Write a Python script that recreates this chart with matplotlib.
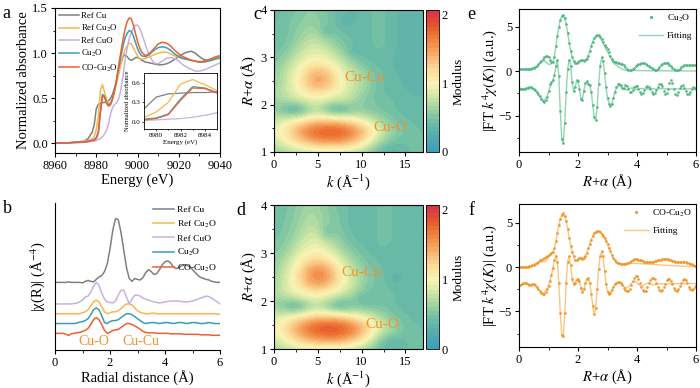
import numpy as np
import matplotlib
matplotlib.use('Agg')
import matplotlib.pyplot as plt
from matplotlib.colors import LinearSegmentedColormap
from matplotlib.ticker import MultipleLocator

plt.rcParams['font.family'] = ['Liberation Serif', 'DejaVu Serif']
plt.rcParams['mathtext.fontset'] = 'stix'
plt.rcParams['axes.linewidth'] = 0.8
plt.rcParams['xtick.major.width'] = 0.8
plt.rcParams['ytick.major.width'] = 0.8
plt.rcParams['xtick.minor.width'] = 0.6
plt.rcParams['ytick.minor.width'] = 0.6
plt.rcParams['xtick.major.size'] = 3
plt.rcParams['ytick.major.size'] = 3
plt.rcParams['xtick.minor.size'] = 1.8
plt.rcParams['ytick.minor.size'] = 1.8
plt.rcParams['xtick.labelsize'] = 9
plt.rcParams['ytick.labelsize'] = 9

# ---------------- a : XANES ----------------
energy = [8960, 8965, 8970, 8974, 8976, 8978, 8979, 8980, 8981, 8982,
          8983, 8984, 8985, 8986, 8987, 8988, 8989, 8990, 8991, 8992,
          8993, 8994, 8995, 8996, 8997, 8998, 8999, 9000, 9001, 9002,
          9004, 9006, 9008, 9010, 9012, 9014, 9016, 9018, 9020, 9022,
          9024, 9026, 9028, 9030, 9032, 9034, 9036, 9038, 9040]
xanes_ref_cu = [0.0, 0.0, 0.01, 0.02, 0.05, 0.12, 0.2, 0.38, 0.43, 0.44,
                0.45, 0.45, 0.46, 0.47, 0.5, 0.55, 0.62, 0.7, 0.8, 0.89,
                0.96, 0.98, 0.96, 0.93, 0.92, 0.93, 0.95, 0.95, 0.94, 0.92,
                0.9, 0.89, 0.88, 0.87, 0.87, 0.88, 0.9, 0.93, 0.96, 0.99,
                1.01, 1.02, 1.0, 0.96, 0.93, 0.92, 0.93, 0.94, 0.95]
xanes_ref_cu2o = [0.0, 0.0, 0.01, 0.02, 0.03, 0.05, 0.07, 0.15, 0.3, 0.58,
                  0.65, 0.57, 0.48, 0.44, 0.45, 0.5, 0.58, 0.68, 0.78, 0.88,
                  0.97, 1.04, 1.08, 1.11, 1.1, 1.06, 1.01, 0.97, 0.94, 0.93,
                  0.94, 0.96, 0.98, 1.0, 1.01, 1.01, 0.99, 0.97, 0.95, 0.94,
                  0.93, 0.92, 0.91, 0.9, 0.9, 0.91, 0.92, 0.93, 0.94]
xanes_ref_cuo = [0.0, 0.0, 0.0, 0.01, 0.01, 0.02, 0.02, 0.03, 0.04, 0.05,
                 0.07, 0.1, 0.14, 0.22, 0.33, 0.4, 0.43, 0.45, 0.5, 0.6,
                 0.75, 0.92, 1.06, 1.16, 1.23, 1.28, 1.31, 1.31, 1.28, 1.22,
                 1.08, 0.96, 0.89, 0.88, 0.91, 0.94, 0.95, 0.94, 0.91, 0.87,
                 0.84, 0.82, 0.8, 0.8, 0.81, 0.83, 0.85, 0.87, 0.89]
xanes_cu2o = [0.0, 0.0, 0.01, 0.01, 0.02, 0.03, 0.04, 0.06, 0.12, 0.35,
              0.54, 0.52, 0.45, 0.42, 0.44, 0.5, 0.6, 0.72, 0.85, 0.97,
              1.08, 1.17, 1.22, 1.25, 1.24, 1.19, 1.12, 1.05, 1.0, 0.97,
              0.96, 0.99, 1.03, 1.06, 1.07, 1.06, 1.03, 0.99, 0.96, 0.94,
              0.93, 0.92, 0.91, 0.9, 0.9, 0.91, 0.92, 0.94, 0.95]
xanes_co_cu2o = [0.0, 0.0, 0.01, 0.01, 0.02, 0.03, 0.03, 0.05, 0.11, 0.33,
                 0.52, 0.51, 0.44, 0.41, 0.43, 0.5, 0.6, 0.73, 0.88, 1.02,
                 1.15, 1.27, 1.35, 1.39, 1.38, 1.31, 1.22, 1.13, 1.06, 1.01,
                 0.97, 1.0, 1.05, 1.1, 1.12, 1.11, 1.08, 1.03, 0.99, 0.96,
                 0.94, 0.92, 0.91, 0.9, 0.91, 0.92, 0.94, 0.96, 0.97]

names = ['Ref Cu', 'Ref Cu$_2$O', 'Ref CuO', 'Cu$_2$O', 'CO-Cu$_2$O']
colors = ['#808080', '#f9b64d', '#c7b2df', '#3a9db6', '#ef6030']

# ---------------- b : FT-EXAFS ----------------
r_b = np.round(np.arange(61) * 0.1, 1)
ft_ref_cu = [69, 69, 69, 69, 69, 69.5, 69, 69, 69, 69,
             68.5, 70, 71, 70, 69.5, 72, 74.5, 76, 80, 88,
             103, 122, 134, 133, 120, 102, 84, 73, 70, 73,
             72, 71.5, 74, 79, 82, 80, 77, 78, 82, 87,
             90, 91, 89, 85, 83, 84, 86, 87, 86.5, 85,
             82, 79, 76, 74, 73, 72, 71.5, 70, 69.5, 69, 69]
ft_ref_cu2o = [37, 37, 37, 37, 37, 37, 37, 37, 37, 37,
               38, 39, 41, 45, 49, 51, 49, 44, 39, 37,
               38, 39, 39, 40, 42, 45, 47, 47, 46, 43,
               40, 38.5, 37.5, 37, 37, 37.5, 37.5, 37, 37, 37,
               37, 37, 37, 37, 37, 37, 37, 37, 37, 37,
               37, 37, 37, 37, 37, 37, 37, 37, 37, 36.5, 36.5]
ft_ref_cuo = [47, 47, 47, 47, 47, 47, 47, 47.5, 48, 49,
              51, 54, 55, 59, 65, 69, 66, 58, 52, 49,
              48.5, 48, 50, 56, 61, 61, 54, 47, 52, 56,
              56, 55, 53, 52, 51, 50, 49, 48.5, 48, 48.5,
              49, 49.5, 50, 50, 50, 50, 49.5, 49, 49, 49.5,
              50, 51, 52, 53, 54, 55, 54.5, 53, 51, 49, 47]
ft_cu2o = [27, 27, 27, 27, 27, 27, 27, 27, 27.5, 28.5,
           29, 30, 32, 36, 41, 43, 41, 35, 28, 27,
           29, 30, 30, 31, 33, 35, 37, 37, 36, 34,
           32, 30, 28, 27, 27.5, 28, 28, 27.5, 27, 27.5,
           28, 28, 27.5, 27, 27.5, 28, 28, 27.5, 27, 27.5,
           28, 28, 27.5, 27, 27, 27.5, 28, 27.5, 27, 27, 27]
ft_co_cu2o = [17, 17, 17, 17, 16, 15, 16.5, 17, 17.5, 18,
              19, 20, 22, 26, 31, 33, 31, 26, 20, 17,
              18, 20, 20.5, 21, 23, 25, 27, 27, 26, 24.5,
              23, 21, 19, 18, 17.5, 17.5, 17.5, 17, 17, 17,
              17, 17, 16.5, 16.5, 16.5, 16.5, 16.5, 16, 16, 16,
              16, 16, 16, 15.5, 15.5, 15.5, 15.5, 15, 15, 15, 15]

# ---------------- c, d : wavelet maps ----------------
k_grid = list(range(18))
r_grid = [1.0, 1.15, 1.3, 1.45, 1.6, 1.75, 1.9, 2.05, 2.2, 2.35, 2.5,
          2.65, 2.8, 2.95, 3.1, 3.25, 3.4, 3.55, 3.7, 3.85, 4.0]
wt_cu2o = [
    [.60, .65, .72, .78, .82, .85, .85, .85, .82, .78, .70, .55, .40, .32, .32, .40, .45, .45],
    [.75, .85, .98, 1.10, 1.20, 1.28, 1.32, 1.32, 1.28, 1.18, 1.02, .82, .60, .45, .40, .42, .45, .45],
    [.88, 1.00, 1.18, 1.38, 1.55, 1.65, 1.70, 1.70, 1.65, 1.50, 1.30, 1.05, .80, .62, .50, .45, .45, .42],
    [.92, 1.05, 1.25, 1.48, 1.65, 1.76, 1.82, 1.82, 1.75, 1.60, 1.40, 1.15, .90, .70, .55, .48, .45, .42],
    [.85, .95, 1.10, 1.25, 1.38, 1.45, 1.50, 1.48, 1.40, 1.28, 1.12, .95, .75, .60, .50, .45, .42, .40],
    [.70, .72, .72, .78, .90, .98, .95, .88, .85, .85, .80, .70, .60, .52, .45, .42, .40, .40],
    [.58, .45, .30, .35, .62, .72, .50, .30, .35, .52, .55, .50, .48, .45, .42, .40, .38, .38],
    [.62, .65, .68, .75, .85, .88, .80, .72, .72, .65, .55, .50, .48, .45, .42, .40, .38, .38],
    [.65, .75, .85, .95, 1.05, 1.08, 1.02, .95, .88, .75, .62, .50, .45, .42, .40, .38, .36, .36],
    [.62, .75, .90, 1.05, 1.25, 1.35, 1.28, 1.10, .95, .80, .70, .55, .45, .40, .38, .36, .35, .35],
    [.60, .72, .90, 1.08, 1.35, 1.48, 1.40, 1.18, .95, .80, .70, .55, .45, .40, .38, .35, .35, .35],
    [.58, .70, .88, 1.05, 1.30, 1.42, 1.35, 1.12, .90, .78, .68, .52, .45, .40, .36, .35, .35, .35],
    [.55, .65, .82, .98, 1.12, 1.18, 1.12, .98, .82, .68, .55, .45, .42, .38, .35, .35, .35, .35],
    [.50, .58, .72, .88, .98, 1.00, .95, .85, .70, .55, .45, .40, .40, .38, .35, .35, .35, .35],
    [.45, .52, .62, .78, .88, .90, .85, .72, .58, .35, .40, .40, .42, .40, .35, .35, .35, .35],
    [.42, .48, .55, .70, .80, .82, .72, .60, .50, .42, .40, .42, .45, .42, .36, .35, .35, .35],
    [.42, .45, .52, .62, .72, .72, .58, .52, .45, .42, .40, .42, .45, .42, .36, .35, .35, .35],
    [.42, .45, .50, .58, .65, .62, .35, .48, .40, .40, .40, .42, .45, .42, .36, .35, .35, .35],
    [.42, .45, .50, .55, .60, .58, .50, .45, .30, .38, .40, .42, .45, .42, .36, .35, .35, .35],
    [.40, .45, .48, .52, .58, .55, .50, .42, .35, .30, .40, .42, .45, .42, .36, .35, .35, .35],
    [.40, .42, .45, .50, .55, .52, .48, .42, .40, .38, .40, .42, .45, .42, .36, .35, .35, .35],
]
wt_co_cu2o = [
    [.65, .72, .80, .85, .88, .90, .90, .88, .85, .80, .72, .60, .45, .38, .38, .42, .45, .45],
    [.80, .92, 1.05, 1.18, 1.28, 1.35, 1.38, 1.38, 1.32, 1.20, 1.05, .82, .55, .35, .35, .42, .45, .45],
    [.90, 1.05, 1.25, 1.45, 1.60, 1.70, 1.75, 1.74, 1.68, 1.52, 1.32, 1.05, .78, .60, .50, .45, .45, .42],
    [.95, 1.10, 1.30, 1.52, 1.70, 1.82, 1.88, 1.86, 1.78, 1.62, 1.42, 1.18, .92, .72, .58, .48, .45, .42],
    [.90, 1.00, 1.15, 1.30, 1.42, 1.50, 1.55, 1.52, 1.45, 1.32, 1.15, .98, .80, .65, .52, .45, .42, .40],
    [.78, .78, .78, .85, .95, 1.02, 1.00, .92, .88, .85, .80, .72, .62, .52, .45, .42, .40, .40],
    [.62, .50, .35, .40, .65, .75, .60, .38, .35, .52, .50, .45, .48, .45, .42, .40, .38, .38],
    [.65, .68, .70, .78, .88, .92, .82, .72, .60, .58, .35, .45, .48, .45, .42, .40, .38, .38],
    [.68, .80, .92, 1.02, 1.12, 1.15, 1.08, .98, .85, .72, .55, .48, .45, .45, .42, .40, .38, .38],
    [.65, .80, .98, 1.18, 1.38, 1.48, 1.40, 1.18, .98, .80, .62, .50, .45, .42, .35, .40, .38, .38],
    [.62, .78, .98, 1.22, 1.50, 1.62, 1.52, 1.28, 1.00, .80, .65, .52, .45, .40, .30, .40, .38, .38],
    [.60, .75, .95, 1.18, 1.45, 1.58, 1.48, 1.22, .95, .75, .62, .50, .45, .40, .38, .40, .38, .38],
    [.58, .70, .88, 1.08, 1.25, 1.32, 1.25, 1.05, .85, .68, .55, .45, .42, .40, .38, .38, .38, .38],
    [.55, .62, .78, .95, 1.08, 1.10, 1.02, .90, .72, .58, .48, .42, .42, .40, .38, .38, .38, .38],
    [.50, .56, .68, .85, .95, .98, .90, .75, .60, .50, .45, .40, .42, .42, .38, .38, .38, .38],
    [.48, .52, .62, .78, .88, .90, .75, .65, .52, .45, .40, .38, .45, .45, .40, .38, .38, .38],
    [.45, .50, .58, .70, .82, .80, .45, .58, .48, .42, .38, .38, .45, .45, .40, .38, .38, .38],
    [.45, .48, .55, .65, .75, .72, .50, .55, .45, .40, .38, .38, .45, .45, .40, .38, .38, .38],
    [.42, .48, .52, .62, .70, .68, .58, .52, .45, .40, .36, .38, .45, .45, .40, .38, .38, .38],
    [.42, .46, .52, .60, .68, .65, .55, .50, .45, .40, .36, .38, .45, .45, .40, .38, .38, .38],
    [.42, .45, .50, .58, .65, .62, .55, .48, .45, .40, .36, .38, .45, .45, .40, .38, .38, .38],
]

# ---------------- e, f : fits ----------------
r_fit = np.arange(121) * 0.05
e_mag_data = [0.20, 0.20, 0.22, 0.24, 0.25, 0.25, 0.26, 0.28, 0.30, 0.32,
              0.38, 0.48, 0.62, 0.80, 1.00, 1.20, 1.40, 1.58, 1.68, 1.68,
              1.55, 1.30, 1.05, 1.00, 1.60, 2.80, 4.00, 5.00, 5.80, 6.20,
              6.30, 6.00, 5.30, 4.30, 3.20, 2.30, 1.60, 1.15, 0.90, 0.90,
              1.05, 1.20, 1.25, 1.22, 1.20, 1.25, 1.40, 1.75, 2.25, 2.80,
              3.30, 3.70, 3.95, 4.05, 4.05, 3.90, 3.65, 3.30, 3.00, 2.75,
              2.50, 2.15, 1.75, 1.40, 1.15, 1.05, 1.00, 0.95, 0.90, 0.85,
              0.80, 0.65, 0.45, 0.28, 0.18, 0.15, 0.18, 0.28, 0.40, 0.55,
              0.68, 0.78, 0.85, 0.90, 0.92, 0.90, 0.85, 0.75, 0.62, 0.48,
              0.33, 0.20, 0.12, 0.12, 0.25, 0.45, 0.65, 0.82, 0.92, 0.96,
              0.95, 0.88, 0.75, 0.58, 0.40, 0.24, 0.14, 0.12, 0.18, 0.30,
              0.45, 0.58, 0.66, 0.70, 0.72, 0.72, 0.70, 0.68, 0.66, 0.65,
              0.65]
e_mag_fit = [0.20, 0.20, 0.20, 0.22, 0.22, 0.22, 0.22, 0.24, 0.26, 0.28,
             0.32, 0.40, 0.52, 0.68, 0.88, 1.05, 1.15, 1.15, 1.05, 0.90,
             0.78, 0.75, 0.85, 1.10, 1.70, 2.80, 4.00, 5.00, 5.80, 6.20,
             6.30, 6.00, 5.30, 4.30, 3.20, 2.30, 1.60, 1.15, 0.88, 0.85,
             1.00, 1.15, 1.22, 1.22, 1.22, 1.28, 1.45, 1.80, 2.30, 2.85,
             3.35, 3.75, 3.98, 4.05, 4.00, 3.80, 3.50, 3.15, 2.80, 2.50,
             2.20, 1.85, 1.50, 1.20, 0.95, 0.80, 0.70, 0.55, 0.42, 0.30,
             0.22, 0.15, 0.10, 0.08, 0.07, 0.07, 0.07, 0.08, 0.08, 0.08,
             0.07, 0.07, 0.06, 0.06, 0.06, 0.06, 0.06, 0.05, 0.05, 0.05,
             0.05, 0.05, 0.05, 0.04, 0.04, 0.04, 0.04, 0.04, 0.04, 0.04,
             0.04, 0.03, 0.03, 0.03, 0.03, 0.03, 0.03, 0.03, 0.03, 0.03,
             0.03, 0.03, 0.03, 0.02, 0.02, 0.02, 0.02, 0.02, 0.02, 0.02,
             0.02]
e_im_data = [-1.95, -2.00, -2.05, -2.05, -2.00, -1.90, -1.85, -1.80, -1.82, -1.90,
             -2.00, -2.15, -2.35, -2.60, -2.85, -3.10, -3.35, -3.45, -3.30, -2.90,
             -2.20, -1.50, -1.20, -1.00, -0.40, 0.60, 1.30, -0.50, -4.50, -7.60,
             -8.10, -5.80, -2.40, 0.20, 1.30, 0.60, -1.20, -2.25, -1.80, -1.05,
             -1.10, -2.00, -3.10, -3.20, -2.20, -1.30, -1.15, -1.40, -1.60, -2.30,
             -3.80, -5.20, -5.50, -4.00, -1.50, 0.60, 1.55, 1.20, -0.20, -1.80,
             -3.00, -3.70, -3.95, -3.70, -3.00, -2.30, -1.80, -1.50, -1.45, -1.60,
             -1.90, -1.85, -1.60, -1.70, -2.05, -2.30, -2.35, -2.10, -1.80, -1.65,
             -1.70, -2.00, -2.35, -2.55, -2.45, -2.10, -1.80, -1.70, -1.75, -2.00,
             -2.30, -2.55, -2.50, -2.15, -1.75, -1.45, -1.40, -1.70, -2.20, -2.55,
             -2.50, -2.00, -1.30, -1.00, -1.30, -2.00, -2.55, -2.70, -2.40, -1.95,
             -1.65, -1.60, -1.85, -2.25, -2.55, -2.60, -2.35, -2.00, -1.80, -1.85,
             -2.05]
e_im_fit = [-1.95, -1.98, -2.00, -2.00, -1.98, -1.92, -1.88, -1.85, -1.88, -1.95,
            -2.05, -2.20, -2.40, -2.65, -2.90, -3.10, -3.25, -3.30, -3.15, -2.80,
            -2.30, -1.80, -1.40, -1.05, -0.45, 0.55, 1.30, -0.50, -4.50, -7.60,
            -8.10, -5.80, -2.40, 0.20, 1.30, 0.60, -1.20, -2.20, -1.85, -1.15,
            -1.15, -2.00, -3.05, -3.15, -2.20, -1.35, -1.20, -1.40, -1.65, -2.35,
            -3.80, -5.20, -5.50, -4.00, -1.50, 0.55, 1.50, 1.15, -0.25, -1.85,
            -3.00, -3.65, -3.90, -3.65, -3.00, -2.35, -1.90, -1.70, -1.65, -1.75,
            -1.90, -2.05, -2.10, -2.08, -2.00, -1.92, -1.90, -1.92, -1.98, -2.03,
            -2.05, -2.03, -1.98, -1.96, -1.97, -2.00, -2.02, -2.02, -2.00, -1.98,
            -1.97, -1.98, -2.00, -2.01, -2.01, -2.00, -1.99, -1.98, -1.98, -1.99,
            -2.00, -2.00, -2.00, -1.99, -1.99, -1.99, -2.00, -2.00, -2.00, -2.00,
            -2.00, -2.00, -2.00, -2.00, -2.00, -2.00, -2.00, -2.00, -2.00, -2.00,
            -2.00]
f_mag_data = [0.00, 0.00, 0.02, 0.03, 0.05, 0.05, 0.05, 0.08, 0.12, 0.18,
              0.25, 0.35, 0.50, 0.62, 0.75, 0.85, 0.95, 1.05, 1.15, 1.25,
              1.35, 1.45, 1.55, 1.70, 2.10, 2.90, 3.80, 4.70, 5.40, 5.90,
              6.05, 5.80, 5.20, 4.30, 3.30, 2.40, 1.70, 1.20, 0.85, 0.75,
              0.90, 1.05, 1.05, 0.95, 1.00, 1.25, 1.60, 2.10, 2.60, 3.10,
              3.50, 3.80, 3.98, 4.05, 4.05, 3.95, 3.75, 3.50, 3.25, 2.95,
              2.60, 2.20, 1.80, 1.40, 1.05, 0.80, 0.62, 0.50, 0.42, 0.38,
              0.35, 0.35, 0.38, 0.42, 0.50, 0.60, 0.70, 0.80, 0.86, 0.88,
              0.88, 0.85, 0.80, 0.74, 0.68, 0.62, 0.58, 0.55, 0.54, 0.55,
              0.58, 0.62, 0.66, 0.70, 0.74, 0.78, 0.82, 0.86, 0.90, 0.92,
              0.92, 0.90, 0.85, 0.78, 0.70, 0.64, 0.60, 0.58, 0.58, 0.60,
              0.62, 0.62, 0.60, 0.56, 0.50, 0.44, 0.38, 0.30, 0.22, 0.15,
              0.08]
f_mag_fit = [0.00, 0.00, 0.01, 0.02, 0.03, 0.04, 0.05, 0.07, 0.10, 0.15,
             0.22, 0.32, 0.45, 0.55, 0.60, 0.60, 0.58, 0.55, 0.65, 0.85,
             1.10, 1.35, 1.55, 1.72, 2.10, 2.90, 3.80, 4.70, 5.40, 5.90,
             6.05, 5.80, 5.20, 4.30, 3.30, 2.40, 1.70, 1.20, 0.85, 0.72,
             0.85, 1.00, 1.05, 1.00, 1.05, 1.28, 1.62, 2.10, 2.60, 3.10,
             3.50, 3.80, 3.98, 4.05, 4.02, 3.90, 3.70, 3.45, 3.20, 2.90,
             2.55, 2.15, 1.75, 1.35, 1.02, 0.78, 0.60, 0.48, 0.40, 0.36,
             0.35, 0.36, 0.38, 0.40, 0.41, 0.42, 0.42, 0.42, 0.41, 0.40,
             0.40, 0.39, 0.38, 0.37, 0.36, 0.35, 0.34, 0.33, 0.32, 0.31,
             0.30, 0.29, 0.28, 0.27, 0.26, 0.25, 0.24, 0.23, 0.22, 0.21,
             0.20, 0.19, 0.18, 0.17, 0.16, 0.15, 0.14, 0.13, 0.12, 0.11,
             0.10, 0.10, 0.09, 0.09, 0.08, 0.08, 0.07, 0.07, 0.06, 0.06,
             0.05]
f_im_data = [-2.00, -2.00, -1.95, -1.85, -1.80, -1.80, -1.90, -2.00, -2.00, -1.95,
             -1.92, -2.05, -2.25, -2.50, -2.75, -2.95, -3.05, -3.00, -2.80, -2.50,
             -2.10, -1.60, -0.90, -0.10, 0.80, 1.30, 0.60, -1.80, -5.20, -7.70,
             -7.80, -5.20, -1.80, 0.60, 1.20, 0.20, -1.30, -1.95, -1.85, -1.50,
             -1.30, -1.60, -2.40, -2.85, -2.50, -1.80, -1.30, -1.25, -1.80, -3.00,
             -4.40, -5.30, -4.60, -2.50, -0.20, 1.30, 1.80, 1.20, -0.40, -1.90,
             -2.80, -3.05, -2.95, -2.60, -2.20, -1.90, -1.80, -1.70, -1.68, -1.80,
             -2.05, -2.35, -2.55, -2.65, -2.65, -2.45, -2.00, -1.55, -1.20, -1.05,
             -1.05, -1.30, -1.75, -2.25, -2.60, -2.70, -2.65, -2.30, -1.85, -1.45,
             -1.25, -1.22, -1.40, -1.80, -2.25, -2.55, -2.65, -2.60, -2.30, -1.90,
             -1.50, -1.30, -1.30, -1.55, -1.95, -2.35, -2.60, -2.65, -2.50, -2.15,
             -1.75, -1.45, -1.38, -1.50, -1.85, -2.20, -2.45, -2.55, -2.45, -2.20,
             -2.00]
f_im_fit = [-2.00, -2.00, -1.97, -1.90, -1.85, -1.85, -1.92, -2.00, -2.02, -2.00,
            -2.00, -2.10, -2.28, -2.50, -2.70, -2.85, -2.92, -2.88, -2.70, -2.42,
            -2.05, -1.58, -0.92, -0.12, 0.78, 1.28, 0.60, -1.80, -5.20, -7.70,
            -7.80, -5.20, -1.80, 0.60, 1.20, 0.20, -1.30, -1.90, -1.75, -1.40,
            -1.35, -1.70, -2.40, -2.80, -2.50, -1.85, -1.35, -1.30, -1.85, -3.00,
            -4.40, -5.30, -4.60, -2.50, -0.20, 1.25, 1.75, 1.15, -0.40, -1.90,
            -2.75, -3.00, -2.90, -2.55, -2.20, -1.92, -1.80, -1.75, -1.70, -1.78,
            -1.95, -2.15, -2.30, -2.35, -2.28, -2.10, -1.88, -1.70, -1.62, -1.65,
            -1.78, -1.95, -2.08, -2.12, -2.08, -1.98, -1.88, -1.82, -1.82, -1.88,
            -1.95, -2.00, -2.00, -1.97, -1.92, -1.88, -1.87, -1.88, -1.90, -1.91,
            -1.91, -1.90, -1.89, -1.88, -1.88, -1.87, -1.87, -1.87, -1.86, -1.86,
            -1.86, -1.86, -1.86, -1.85, -1.85, -1.85, -1.85, -1.85, -1.85, -1.85,
            -1.85]

label_orange = '#f2912e'

fig = plt.figure(figsize=(7, 3.88), dpi=100)


def panel_letter(x, y, s):
    fig.text(x, y, s, fontsize=13, va='baseline', ha='left')


# ---- a ----
ax = fig.add_axes([55 / 700, 1 - 153 / 388, 165 / 700, 145 / 388])
series_a = [xanes_ref_cu, xanes_ref_cu2o, xanes_ref_cuo, xanes_cu2o, xanes_co_cu2o]
for ys, c, n in zip(series_a, colors, names):
    ax.plot(energy, ys, color=c, lw=1.1, label=n)
ax.set_xlim(8960, 9040)
ax.set_ylim(-0.11, 1.5)
ax.xaxis.set_major_locator(MultipleLocator(20))
ax.xaxis.set_minor_locator(MultipleLocator(10))
ax.yaxis.set_major_locator(MultipleLocator(0.5))
ax.yaxis.set_minor_locator(MultipleLocator(0.25))
ax.set_xlabel('Energy (eV)', fontsize=10.5, labelpad=1)
ax.set_ylabel('Normalized absorbance', fontsize=10.5, labelpad=2)
ax.tick_params(which='both', direction='out', pad=2)
ax.legend(loc='upper left', bbox_to_anchor=(0.0, 1.0), frameon=False,
          fontsize=6.3, handlelength=2.3, handletextpad=0.3,
          labelspacing=0.35, borderaxespad=0.2, borderpad=0.2)

axi = fig.add_axes([144 / 700, 1 - 129 / 388, 73 / 700, 56 / 388])
for ys, c in zip(series_a, colors):
    axi.plot(energy, ys, color=c, lw=0.9)
axi.set_xlim(8979, 8985)
axi.set_ylim(-0.11, 0.75)
axi.set_xticks([8980, 8982, 8984])
axi.set_yticks([0.0, 0.3, 0.6])
axi.xaxis.set_minor_locator(MultipleLocator(1))
axi.tick_params(which='both', labelsize=5, length=1.6, pad=1, width=0.5)
axi.tick_params(which='minor', length=1)
axi.set_xlabel('Energy (eV)', fontsize=5, labelpad=1)
axi.set_ylabel('Normalized absorbance', fontsize=4.6, labelpad=1)
for s in axi.spines.values():
    s.set_linewidth(0.6)
panel_letter(0.003, 1 - 18 / 388, 'a')

# ---- b ----
ax = fig.add_axes([55 / 700, 1 - 350 / 388, 165 / 700, 147 / 388])
series_b = [ft_ref_cu, ft_ref_cu2o, ft_ref_cuo, ft_cu2o, ft_co_cu2o]
for ys, c, n in zip(series_b, colors, names):
    ax.plot(r_b, ys, color=c, lw=1.1, label=n)
ax.set_xlim(0, 6)
ax.set_ylim(0, 150)
ax.set_yticks([])
ax.spines['top'].set_visible(False)
ax.spines['right'].set_visible(False)
ax.xaxis.set_major_locator(MultipleLocator(2))
ax.xaxis.set_minor_locator(MultipleLocator(1))
ax.tick_params(which='both', direction='out', pad=2)
ax.set_xlabel('Radial distance (Å)', fontsize=10.5, labelpad=1)
ax.set_ylabel('|χ(R)| (Å$^{-4}$)', fontsize=10.5, labelpad=6)
ax.text(1.42, 9, 'Cu-O', color=label_orange, fontsize=10, ha='center', va='center')
ax.text(3.13, 9, 'Cu-Cu', color=label_orange, fontsize=10, ha='center', va='center')
ax.legend(loc='upper right', bbox_to_anchor=(1.0, 1.0), frameon=False,
          fontsize=6.8, handlelength=2.2, handletextpad=0.4,
          labelspacing=0.45, borderaxespad=0.1, borderpad=0.2)
panel_letter(0.004, 1 - 213 / 388, 'b')

# ---- c, d ----
stops = [(0.00, '#3f9fba'), (0.12, '#58afae'), (0.20, '#6dbea6'),
         (0.30, '#9fd4a0'), (0.40, '#d4e9a6'), (0.48, '#f8f4b6'),
         (0.56, '#fbe29e'), (0.65, '#f9c07e'), (0.74, '#f49a55'),
         (0.83, '#ee7634'), (0.91, '#e5522e'), (1.00, '#d8334b')]
cmap = LinearSegmentedColormap.from_list('modulus', stops).resampled(34)
ext = [k_grid[0] - 0.5, k_grid[-1] + 0.5, r_grid[0] - 0.075, r_grid[-1] + 0.075]


def wt_panel(rect, crect, grid, cucu_xy, cuo_xy):
    ax = fig.add_axes(rect)
    im = ax.imshow(np.array(grid), origin='lower', extent=ext, aspect='auto',
                   interpolation='bicubic', interpolation_stage='data',
                   cmap=cmap, vmin=0, vmax=2.07)
    ax.set_xlim(0, 17)
    ax.set_ylim(1, 4)
    ax.xaxis.set_major_locator(MultipleLocator(5))
    ax.xaxis.set_minor_locator(MultipleLocator(2.5))
    ax.yaxis.set_major_locator(MultipleLocator(1))
    ax.yaxis.set_minor_locator(MultipleLocator(0.5))
    ax.tick_params(which='both', direction='out', pad=2)
    ax.set_xlabel(r'$k$ (Å$^{-1}$)', fontsize=10.5, labelpad=1)
    ax.set_ylabel(r'$R$+$\alpha$ (Å)', fontsize=10.5, labelpad=2)
    ax.text(*cucu_xy, 'Cu-Cu', color=label_orange, fontsize=11, ha='center', va='center')
    ax.text(*cuo_xy, 'Cu-O', color=label_orange, fontsize=11, ha='center', va='center')
    cax = fig.add_axes(crect)
    cb = fig.colorbar(im, cax=cax, ticks=[0, 1, 2])
    cb.outline.set_linewidth(0.6)
    cax.tick_params(length=0, pad=2, labelsize=9)
    cb.set_label('Modulus', fontsize=9.5, labelpad=3)


wt_panel([274 / 700, 1 - 152 / 388, 149 / 700, 142 / 388],
         [426 / 700, 1 - 152 / 388, 13 / 700, 142 / 388],
         wt_cu2o, (10.3, 2.57), (13.3, 1.51))
panel_letter(253 / 700, 1 - 19 / 388, 'c')
wt_panel([274 / 700, 1 - 349 / 388, 149 / 700, 144 / 388],
         [426 / 700, 1 - 349 / 388, 13 / 700, 144 / 388],
         wt_co_cu2o, (10.0, 2.6), (12.4, 1.51))
panel_letter(236 / 700, 1 - 215 / 388, 'd')


# ---- e, f ----
def fit_panel(rect, mag_d, mag_f, im_d, im_f, cdata, cfit, name, ylim):
    ax = fig.add_axes(rect)
    ax.plot(r_fit, mag_f, color=cfit, lw=1.0)
    ax.plot(r_fit, im_f, color=cfit, lw=1.0)
    ax.plot(r_fit, mag_d, ls='none', marker='o', ms=1.9, mew=0, color=cdata, label=name)
    ax.plot(r_fit, im_d, ls='none', marker='o', ms=1.9, mew=0, color=cdata)
    ax.plot([], [], color=cfit, lw=1.0, label='Fitting')
    ax.set_xlim(0, 6)
    ax.set_ylim(*ylim)
    ax.xaxis.set_major_locator(MultipleLocator(2))
    ax.xaxis.set_minor_locator(MultipleLocator(1))
    ax.yaxis.set_major_locator(MultipleLocator(5))
    ax.yaxis.set_minor_locator(MultipleLocator(2.5))
    ax.tick_params(which='both', direction='out', pad=2)
    ax.set_xlabel(r'$R$+$\alpha$ (Å)', fontsize=10.5, labelpad=1)
    ax.set_ylabel(r'|FT $k^4\chi(K)$| (a.u.)', fontsize=10.5, labelpad=0)
    ax.legend(loc='upper right', frameon=False, fontsize=6.8, handlelength=2.6,
              handletextpad=0.4, labelspacing=0.8, borderaxespad=0.2,
              borderpad=0.2, markerscale=1.2)


fit_panel([519 / 700, 1 - 152 / 388, 177 / 700, 143 / 388],
          e_mag_data, e_mag_fit, e_im_data, e_im_fit,
          '#52b883', '#93d6b0', 'Cu$_2$O', (-9.1, 7.0))
panel_letter(467 / 700, 1 - 19 / 388, 'e')
fit_panel([519 / 700, 1 - 347 / 388, 177 / 700, 143 / 388],
          f_mag_data, f_mag_fit, f_im_data, f_im_fit,
          '#f3962a', '#f8c684', 'CO-Cu$_2$O', (-9.0, 7.1))
panel_letter(468 / 700, 1 - 215 / 388, 'f')

fig.savefig('out.png', dpi=100)
